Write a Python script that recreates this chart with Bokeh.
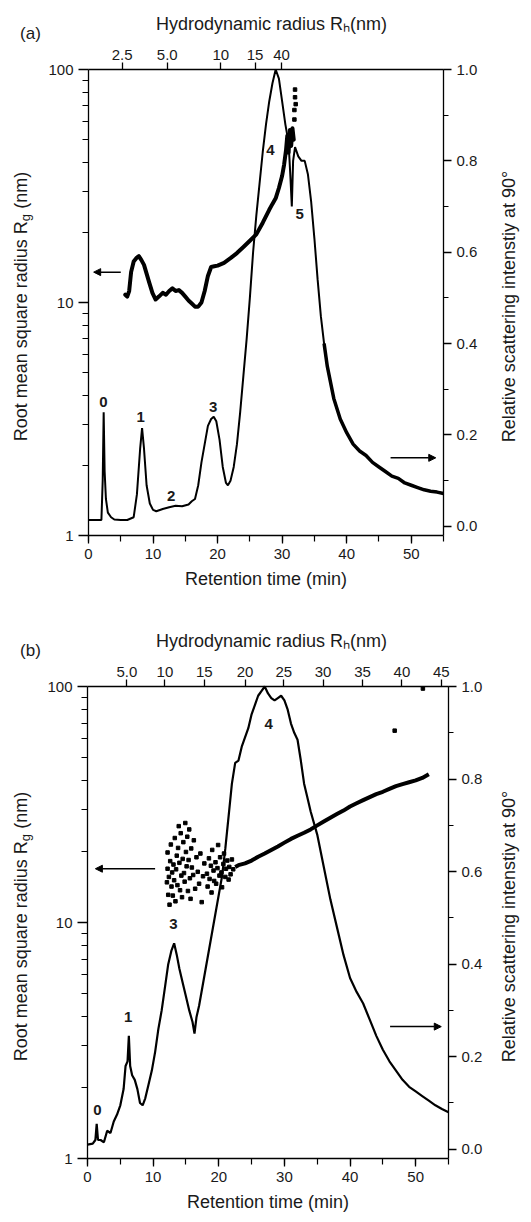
import math
from bokeh.plotting import figure
from bokeh.layouts import column
from bokeh.models import (Range1d, LinearAxis, LogAxis, LinearScale, FixedTicker,
                          SingleIntervalTicker, NumeralTickFormatter, Label, Arrow, NormalHead)
from bokeh.embed import file_html
from bokeh.resources import INLINE

FONT = "Liberation Sans"

# ---------------- panel (a) data ----------------
scat_a_t = [0, 2.0, 2.2, 2.35, 2.5, 2.7, 3.0, 3.5, 4.0,
            5, 6, 7, 7.5, 8, 8.3, 8.6, 9, 9.5, 10, 10.5,
            11.5, 12.5, 13.5, 14.5, 15.5, 16, 16.5, 17, 17.5, 18,
            18.5, 19, 19.4, 19.8, 20.3, 20.8, 21.3, 21.6, 22, 22.5,
            23, 23.5, 24, 24.5, 25, 25.5, 26, 26.5, 27, 27.5,
            28, 28.5, 29, 29.5, 30, 30.5, 31, 31.3, 31.5, 31.7,
            32, 32.5, 33, 33.5, 34, 34.5, 35, 35.5, 36, 36.5,
            37, 38, 39, 40, 41, 42, 43, 44, 45, 46, 47, 48, 49, 50, 51, 52, 53, 54, 55]
scat_a_v = [0.014, 0.014, 0.10, 0.25, 0.12, 0.06, 0.03, 0.02, 0.015,
            0.014, 0.014, 0.02, 0.07, 0.17, 0.215, 0.17, 0.09, 0.05, 0.036, 0.033,
            0.038, 0.042, 0.045, 0.044, 0.048, 0.055, 0.06, 0.09, 0.14, 0.18,
            0.22, 0.235, 0.24, 0.23, 0.19, 0.13, 0.095, 0.09, 0.10, 0.13,
            0.18, 0.25, 0.33, 0.41, 0.50, 0.60, 0.68, 0.75, 0.82, 0.88,
            0.93, 0.97, 1.00, 0.98, 0.93, 0.88, 0.84, 0.76, 0.70, 0.80,
            0.83, 0.81, 0.80, 0.80, 0.77, 0.71, 0.63, 0.54, 0.46, 0.40,
            0.35, 0.28, 0.235, 0.205, 0.18, 0.165, 0.155, 0.14, 0.13, 0.12, 0.11, 0.105,
            0.095, 0.09, 0.085, 0.08, 0.077, 0.075, 0.072]
rg_a_t = [5.7, 6.0, 6.3, 6.6, 7.0, 7.4, 7.8, 8.2, 8.6, 9.0, 9.4,
          9.9, 10.4, 10.9, 11.5, 12.0, 12.5, 13.0, 13.5, 14.0, 14.5,
          15.0, 15.5, 16.0, 16.5, 17.0, 17.5, 18.0, 18.5, 19.0, 19.5,
          20.0, 21.0, 22.0, 23.0, 24.0, 25.0, 26.0, 27.0, 28.0, 28.5,
          29.0, 29.5, 30.0, 30.3, 30.6, 30.8, 31.0, 31.2, 31.4, 31.6, 31.8]
rg_a_v = [10.8, 10.6, 11.2, 13.5, 15.0, 15.5, 15.8, 15.2, 14.5, 13.3, 12.2,
          11.0, 10.3, 10.6, 11.0, 10.8, 11.2, 11.5, 11.2, 11.3, 11.0,
          10.6, 10.2, 9.9, 9.6, 9.6, 10.0, 11.2, 13.0, 14.2, 14.3,
          14.4, 14.8, 15.5, 16.3, 17.3, 18.4, 19.6, 22.0, 25.0, 26.5,
          28.0, 31.0, 35.0, 39.0, 45.0, 52.0, 44.0, 55.0, 47.0, 56.0, 50.0]
rg_a_pts_t = [31.9, 31.9, 32.0, 32.0, 32.1]
rg_a_pts_v = [61, 67, 76, 82, 71]
top_a_pos = [5.2, 12.2, 20.5, 25.8, 29.9]
top_a_lab = ["2.5", "5.0", "10", "15", "40"]
peaks_a_lab = ["0", "1", "2", "3", "4", "5"]
peaks_a_t = [2.3, 8.1, 12.8, 19.3, 28.2, 32.7]
peaks_a_v = [0.273, 0.239, 0.066, 0.262, 0.823, 0.684]

# ---------------- panel (b) data ----------------
scat_b_t = [0, 0.8, 1.2, 1.4, 1.6, 2.0, 2.5, 3.0, 3.5, 4.0,
            4.5, 5.0, 5.5, 5.8, 6.1, 6.3, 6.5, 6.8, 7.2, 7.6,
            8.0, 8.4, 8.8, 9.3, 9.8, 10.3, 10.8, 11.3, 11.8, 12.3,
            12.8, 13.2, 13.6, 14.0, 14.5, 15.0, 15.5, 16.0, 16.3, 16.6,
            17.0, 17.5, 18.0, 18.5, 19.0, 19.5, 20.0, 20.5, 21.0, 21.5,
            22.0, 22.5, 23.0, 23.5, 24.0, 24.5, 25.0, 25.5, 26.0, 26.5,
            27.0, 27.5, 28.0, 28.5, 29.0, 29.5, 30.0, 30.5, 31.0, 31.5,
            32.0, 32.5, 33.0, 33.5, 34.0, 35.0, 36.0, 37.0, 38.0, 39.0,
            40, 41, 42, 43, 44, 45, 46, 47, 48, 49, 50, 51, 52, 53, 54, 55]
scat_b_v = [0.01, 0.012, 0.02, 0.055, 0.02, 0.02, 0.015, 0.04, 0.035, 0.06,
            0.075, 0.095, 0.13, 0.18, 0.19, 0.245, 0.18, 0.16, 0.15, 0.13,
            0.10, 0.095, 0.11, 0.14, 0.17, 0.21, 0.26, 0.30, 0.35, 0.40,
            0.43, 0.445, 0.42, 0.39, 0.36, 0.33, 0.30, 0.275, 0.25, 0.285,
            0.31, 0.35, 0.39, 0.43, 0.47, 0.51, 0.55, 0.59, 0.65, 0.72,
            0.79, 0.835, 0.84, 0.87, 0.89, 0.91, 0.94, 0.96, 0.98, 0.99,
            1.0, 0.985, 0.975, 0.97, 0.975, 0.98, 0.97, 0.95, 0.92, 0.90,
            0.885, 0.84, 0.79, 0.76, 0.73, 0.68, 0.61, 0.54, 0.48, 0.42,
            0.37, 0.34, 0.315, 0.28, 0.245, 0.215, 0.19, 0.17, 0.15, 0.135,
            0.125, 0.115, 0.105, 0.095, 0.087, 0.08]
rg_b_t = [22.5, 23, 24, 25, 26, 27, 28, 29, 30, 31, 32, 33, 34, 35, 36, 37,
          38, 39, 40, 41, 42, 43, 44, 45, 46, 47, 48, 49, 50, 51, 52]
rg_b_v = [17.2, 17.5, 17.8, 18.3, 19.0, 19.6, 20.3, 21.0, 21.8, 22.6, 23.3, 24.0, 24.8, 25.8, 26.8, 27.8,
          28.8, 29.8, 31.0, 32.0, 33.0, 34.0, 35.0, 35.8, 36.8, 37.8, 38.6, 39.3, 40.0, 41.0, 42.5]
cloud_b_t = [12.1, 12.2, 12.3, 12.2, 12.4, 12.6, 12.5, 12.8, 12.7, 12.9,
             13.0, 13.1, 13.3, 13.2, 13.4, 13.6, 13.5, 13.7, 13.9, 13.8,
             14.0, 14.1, 14.2, 14.3, 14.5, 14.4, 14.6, 14.7, 14.9, 14.8,
             15.0, 15.1, 15.2, 15.3, 15.5, 15.4, 15.6, 15.8, 15.7, 15.9,
             16.1, 16.2, 16.4, 16.6, 16.8, 17.0, 17.2, 17.4, 17.6, 17.8,
             18.2, 18.3, 18.5, 18.6, 18.8, 18.9, 19.0, 19.2, 19.3, 19.5,
             19.6, 19.8, 19.9, 20.1, 20.2, 20.4, 20.5, 20.7, 20.8, 21.0,
             21.1, 21.3, 21.5, 21.6, 21.8, 22.0, 22.2]
cloud_b_v = [14.8, 16.9, 13.1, 19.8, 15.6, 18.2, 11.9, 14.2, 21.4, 16.3,
             13.0, 17.6, 22.8, 15.1, 12.3, 19.2, 16.8, 14.4, 25.6, 20.7,
             17.9, 13.7, 23.9, 15.8, 18.6, 12.8, 21.9, 16.2, 26.4, 14.9,
             19.9, 17.3, 23.1, 13.6, 24.8, 18.4, 15.4, 20.6, 12.6, 17.1,
             15.9, 22.3, 13.9, 18.9, 16.4, 14.6, 19.6, 12.2, 15.7, 17.8,
             16.1, 14.2, 18.7, 15.3, 17.4, 13.4, 20.3, 16.6, 15.0, 18.0,
             14.6, 17.0, 21.3, 15.8, 18.9, 16.3, 14.1, 17.7, 19.6, 15.6,
             16.9, 18.3, 15.2, 17.2, 16.0, 18.5, 16.8]
rg_b_iso_t = [46.8, 51.1]
rg_b_iso_v = [65.0, 98.0]
top_b_pos = [6.0, 11.8, 17.8, 24.0, 29.9, 35.9, 41.9, 47.9, 53.9]
top_b_lab = ["5.0", "10", "15", "20", "25", "30", "35", "40", "45"]
peaks_b_lab = ["0", "1", "3", "4"]
peaks_b_t = [1.5, 6.2, 13.1, 27.6]
peaks_b_v = [0.084, 0.285, 0.487, 0.919]

X_MAX = 55
V_RANGE = (-0.02, 1.0)
PAGE_L, PAGE_W = 0, 523


class Geo:
    """Page-pixel geometry of one panel (axes box inside the canvas)."""
    def __init__(self, fig_top, fig_h, L, R, T, B):
        self.fig_top, self.fig_h, self.L, self.R, self.T, self.B = fig_top, fig_h, L, R, T, B

    def t(self, X):
        return X_MAX * (X - self.L) / (self.R - self.L)

    def v(self, Y):
        return V_RANGE[0] + (self.B - Y) / (self.B - self.T) * (V_RANGE[1] - V_RANGE[0])

    def g(self, Y):
        return 10 ** (2.0 * (self.B - Y) / (self.B - self.T))


def style_axis(ax, major_out, minor_out):
    ax.axis_line_color = "black"
    ax.axis_line_width = 1.3
    ax.major_tick_line_color = "black"
    ax.major_tick_line_width = 1.3
    ax.minor_tick_line_color = "black"
    ax.minor_tick_line_width = 1.2
    ax.major_tick_in = 0
    ax.major_tick_out = major_out
    ax.minor_tick_in = 0
    ax.minor_tick_out = minor_out
    ax.major_label_text_font = FONT
    ax.major_label_text_font_size = "15px"
    ax.major_label_text_color = "#1a1a1a"
    ax.major_label_standoff = 5


def lbl(p, geo, X, Y, text, size="18px", angle=0.0, align="center", bold=False):
    p.add_layout(Label(x=geo.t(X), y=geo.v(Y), y_range_name="right", text=text,
                       text_font=FONT, text_font_size=size, text_color="#1a1a1a",
                       text_align=align, text_baseline="middle", angle=angle,
                       text_font_style="bold" if bold else "normal"))


def build(geo, tag, top_pos, top_lab, Yc):
    bot = geo.fig_top + geo.fig_h
    p = figure(width=PAGE_W, height=geo.fig_h,
               x_range=Range1d(geo.t(PAGE_L), geo.t(PAGE_L + PAGE_W)),
               y_range=Range1d(geo.g(bot), geo.g(geo.fig_top)),
               y_axis_type="log", x_axis_location=None, y_axis_location=None,
               output_backend="svg", toolbar_location=None,
               min_border_left=0, min_border_right=0, min_border_top=0, min_border_bottom=0)
    p.extra_y_ranges = {"right": Range1d(geo.v(bot), geo.v(geo.fig_top))}
    p.extra_y_scales = {"right": LinearScale()}
    p.xgrid.grid_line_color = None
    p.ygrid.grid_line_color = None
    p.outline_line_color = None
    p.background_fill_color = "white"
    p.border_fill_color = "white"

    bx = LinearAxis(fixed_location=1, bounds=(0, X_MAX),
                    ticker=SingleIntervalTicker(interval=10, num_minor_ticks=2))
    style_axis(bx, 8, 6)
    p.add_layout(bx, "below")

    tx = LinearAxis(fixed_location=100, bounds=(0, X_MAX),
                    ticker=FixedTicker(ticks=top_pos, minor_ticks=[]),
                    major_label_overrides={pos: lab for pos, lab in zip(top_pos, top_lab)})
    style_axis(tx, 7, 0)
    tx.major_label_standoff = 3
    p.add_layout(tx, "above")

    ly = LogAxis(fixed_location=0, bounds=(1, 100),
                 ticker=FixedTicker(ticks=[1, 10, 100],
                                    minor_ticks=[2, 3, 4, 5, 6, 7, 8, 9, 20, 30, 40, 50, 60, 70, 80, 90]),
                 formatter=NumeralTickFormatter(format="0"))
    style_axis(ly, 10, 6)
    p.add_layout(ly, "left")

    ry = LinearAxis(fixed_location=X_MAX, y_range_name="right", bounds=V_RANGE,
                    ticker=SingleIntervalTicker(interval=0.2, num_minor_ticks=2),
                    formatter=NumeralTickFormatter(format="0.0"))
    style_axis(ry, 8, 5)
    p.add_layout(ry, "right")

    # titles
    lbl(p, geo, 30, geo.T - 36, tag, size="17px")
    lbl(p, geo, 271, geo.T - 46, "Hydrodynamic radius R\u2095(nm)")
    lbl(p, geo, (geo.L + geo.R) / 2, geo.B + 43, "Retention time (min)")
    lbl(p, geo, 508, Yc, "Relative scattering intenstiy at 90\u00b0", angle=math.pi / 2)
    w_main, w_sub, w_space, w_rest = 220.0, 7.5, 5.0, 37.0
    y0 = Yc + (w_main + w_sub + w_space + w_rest) / 2
    lbl(p, geo, 20, y0, "Root mean square radius R", angle=math.pi / 2, align="left")
    lbl(p, geo, 25, y0 - w_main, "g", size="13px", angle=math.pi / 2, align="left")
    lbl(p, geo, 20, y0 - w_main - w_sub - w_space, "(nm)", angle=math.pi / 2, align="left")
    return p


def peak_labels(p, labs, ts, vs):
    for s, t, v in zip(labs, ts, vs):
        p.add_layout(Label(x=t, y=v, y_range_name="right", text=s, text_font=FONT,
                           text_font_size="15px", text_font_style="bold", text_color="#1a1a1a",
                           text_align="center", text_baseline="middle"))


def arrow(p, x0, y0, x1, y1, rng="default"):
    p.add_layout(Arrow(end=NormalHead(size=7, fill_color="black", line_color="black"),
                       x_start=x0, y_start=y0, x_end=x1, y_end=y1, y_range_name=rng,
                       line_color="black", line_width=1.5))


# ---------------- panel (a) ----------------
ga = Geo(0, 600, 88, 443, 69, 535)
pa = build(ga, "(a)", top_a_pos, top_a_lab, 306)
pa.line(scat_a_t, scat_a_v, y_range_name="right", line_color="black", line_width=2.0)
tail = [i for i, t in enumerate(scat_a_t) if t >= 36.5]
pa.line([scat_a_t[i] for i in tail], [scat_a_v[i] for i in tail], y_range_name="right",
        line_color="black", line_width=3.5)
pa.line(rg_a_t, rg_a_v, line_color="black", line_width=4, line_join="round", line_cap="round")
pa.scatter(rg_a_pts_t, rg_a_pts_v, marker="square", size=3.5, color="black")
peak_labels(pa, peaks_a_lab, peaks_a_t, peaks_a_v)
arrow(pa, 5.0, 13.5, 0.8, 13.5)
arrow(pa, 46.8, 0.15, 53.8, 0.15, "right")

# ---------------- panel (b) ----------------
gb = Geo(600, 614, 87, 448, 686, 1158)
pb = build(gb, "(b)", top_b_pos, top_b_lab, 926)
pb.line(scat_b_t, scat_b_v, y_range_name="right", line_color="black", line_width=2.2)
pb.line(rg_b_t, rg_b_v, line_color="black", line_width=4, line_join="round")
pb.scatter(cloud_b_t, cloud_b_v, marker="square", size=3.5, color="black")
pb.scatter(rg_b_iso_t, rg_b_iso_v, marker="square", size=3.5, color="black")
peak_labels(pb, peaks_b_lab, peaks_b_t, peaks_b_v)
arrow(pb, 10.3, 16.9, 1.2, 16.9)
arrow(pb, 46.1, 0.265, 53.9, 0.265, "right")

layout = column(pa, pb)
open("out.html", "w").write(file_html(layout, INLINE))
